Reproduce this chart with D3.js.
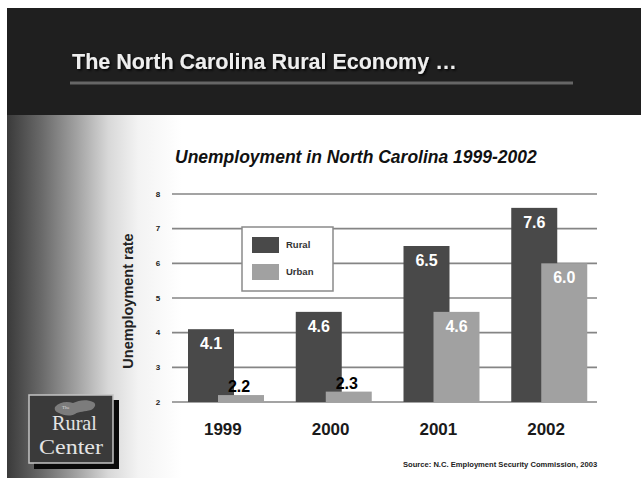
<!DOCTYPE html>
<html>
<head>
<meta charset="utf-8">
<script src="https://cdn.jsdelivr.net/npm/d3@7"></script>
<style>
  html, body { margin: 0; padding: 0; background: #fff; }
  svg { display: block; }
  .sans { font-family: "Liberation Sans", Arial, sans-serif; }
  .serif { font-family: "Liberation Serif", "DejaVu Serif", serif; }
</style>
</head>
<body>
<svg id="chart" width="641" height="483"></svg>
<script>
// ---- data ----
const years = ["1999", "2000", "2001", "2002"];
const seriesNames = ["Rural", "Urban"];
const rural = [4.1, 4.6, 6.5, 7.6];
const urban = [2.2, 2.3, 4.6, 6.0];
const yTicks = [2, 3, 4, 5, 6, 7, 8];
const title = "The North Carolina Rural Economy …";
const subtitle = "Unemployment in North Carolina 1999-2002";
const yAxisTitle = "Unemployment rate";
const source = "Source: N.C. Employment Security Commission, 2003";

const W = 641, H = 483;
const svg = d3.select("#chart");
const defs = svg.append("defs");

// background gradient
const grad = defs.append("linearGradient").attr("id", "leftGrad")
  .attr("x1", 0).attr("x2", 1).attr("y1", 0).attr("y2", 0);
[[0, "#3a3a3a"], [0.2, "#6a6a6a"], [0.4, "#a2a2a2"], [0.58, "#d8d8d8"], [0.75, "#f3f3f3"], [1, "#ffffff"]]
  .forEach(([o, c]) => grad.append("stop").attr("offset", o).attr("stop-color", c));

// title shadow filter
const f = defs.append("filter").attr("id", "shadow").attr("x", "-5%").attr("y", "-30%").attr("width", "110%").attr("height", "160%");
f.append("feDropShadow").attr("dx", 1.5).attr("dy", 1.5).attr("stdDeviation", 0.8)
  .attr("flood-color", "#000").attr("flood-opacity", 0.9);

svg.append("rect").attr("x", 0).attr("y", 0).attr("width", W).attr("height", H).attr("fill", "#fff");
svg.append("rect").attr("x", 7).attr("y", 115).attr("width", 175).attr("height", 363).attr("fill", "url(#leftGrad)");
svg.append("rect").attr("x", 7).attr("y", 8).attr("width", W - 7).attr("height", 107).attr("fill", "#1f1f1f");

// title
svg.append("text").attr("class", "sans").attr("x", 72).attr("y", 69).attr("fill", "#eeeeee")
  .attr("font-size", 21.5).attr("font-weight", "bold").attr("filter", "url(#shadow)").text(title);
svg.append("line").attr("x1", 70).attr("x2", 573).attr("y1", 83).attr("y2", 83)
  .attr("stroke", "#666").attr("stroke-width", 3);

// subtitle
svg.append("text").attr("class", "sans").attr("x", 175).attr("y", 163).attr("fill", "#111")
  .attr("font-size", 17.5).attr("font-weight", "bold").attr("font-style", "italic").text(subtitle);

// scales
const y = d3.scaleLinear().domain([2, 8]).range([402, 194]);
const x = d3.scaleBand().domain(years).range([175, 606]).paddingInner(0).paddingOuter(0);
const barW = 46, ruralOff = 13, urbanOff = 43;
const gridX1 = 172, gridX2 = 597;

// gridlines
svg.append("g").selectAll("line").data(yTicks).join("line")
  .attr("x1", gridX1).attr("x2", gridX2)
  .attr("y1", d => y(d)).attr("y2", d => y(d))
  .attr("stroke", "#858585").attr("stroke-width", 1.6);

// y tick labels
svg.append("g").selectAll("text").data(yTicks).join("text").attr("class", "sans")
  .attr("x", 158).attr("y", d => y(d)).attr("dy", "0.35em")
  .attr("text-anchor", "middle").attr("font-size", 8).attr("font-weight", "bold").attr("fill", "#222")
  .text(d => d);

// y axis title
svg.append("text").attr("class", "sans").attr("transform", `translate(133,301) rotate(-90)`)
  .attr("text-anchor", "middle").attr("font-size", 14.5).attr("font-weight", "bold").attr("fill", "#222")
  .text(yAxisTitle);

// bars
const ruralColor = "#494949", urbanColor = "#a1a1a1";
svg.append("g").selectAll("rect").data(rural).join("rect")
  .attr("x", (d, i) => x(years[i]) + ruralOff).attr("width", barW)
  .attr("y", d => y(d)).attr("height", d => y(2) - y(d)).attr("fill", ruralColor);
svg.append("g").selectAll("rect").data(urban).join("rect")
  .attr("x", (d, i) => x(years[i]) + urbanOff).attr("width", barW)
  .attr("y", d => y(d)).attr("height", d => y(2) - y(d)).attr("fill", urbanColor);

// value labels
const small = d => (y(2) - y(d)) < 20;
svg.append("g").selectAll("text").data(rural).join("text").attr("class", "sans")
  .attr("x", (d, i) => x(years[i]) + ruralOff + barW / 2).attr("y", d => y(d) + 20)
  .attr("text-anchor", "middle").attr("font-size", 16).attr("font-weight", "bold").attr("fill", "#fff")
  .text(d => d.toFixed(1));
svg.append("g").selectAll("text").data(urban).join("text").attr("class", "sans")
  .attr("x", (d, i) => x(years[i]) + urbanOff + barW / 2 + (small(d) ? -2 : 0))
  .attr("y", d => small(d) ? y(d) - 3 : y(d) + 20)
  .attr("text-anchor", "middle").attr("font-size", 16).attr("font-weight", "bold")
  .attr("fill", d => small(d) ? "#000" : "#fff")
  .text(d => d.toFixed(1));

// x axis labels
svg.append("g").selectAll("text").data(years).join("text").attr("class", "sans")
  .attr("x", d => x(d) + x.bandwidth() / 2 - 6).attr("y", 435)
  .attr("text-anchor", "middle").attr("font-size", 17).attr("font-weight", "bold").attr("fill", "#1a1a1a")
  .text(d => d);

// legend
const lg = svg.append("g").attr("transform", "translate(242,227)");
lg.append("rect").attr("width", 91).attr("height", 64).attr("fill", "#fff")
  .attr("stroke", "#8a8a8a").attr("stroke-width", 1.5);
const legColors = [ruralColor, urbanColor];
seriesNames.forEach((s, i) => {
  lg.append("rect").attr("x", 10).attr("y", 10 + i * 27).attr("width", 27).attr("height", 16).attr("fill", legColors[i]);
  lg.append("text").attr("class", "sans").attr("x", 44).attr("y", 18 + i * 27).attr("dy", "0.35em")
    .attr("font-size", 9.5).attr("font-weight", "bold").attr("fill", "#333").text(s);
});

// source
svg.append("text").attr("class", "sans").attr("x", 403).attr("y", 467).attr("font-size", 7.6).attr("font-weight", "bold")
  .attr("fill", "#222").text(source);

// logo
const logo = svg.append("g").attr("transform", "translate(29,395)");
logo.append("rect").attr("x", 5).attr("y", 5).attr("width", 85).attr("height", 69).attr("fill", "#0a0a0a");
logo.append("rect").attr("x", 0).attr("y", 0).attr("width", 84).attr("height", 68)
  .attr("fill", "#3a3a3a").attr("stroke", "#c4c4c4").attr("stroke-width", 1.5);
logo.append("path")
  .attr("d", "M26,12 C30,7 38,6 44,8 C50,5 58,4 64,7 C68,9 66,13 62,15 C56,17 50,16 46,19 C40,22 34,20 30,18 C27,17 25,15 26,12 Z")
  .attr("fill", "#7c7c7c");
logo.append("text").attr("class", "serif").attr("x", 33).attr("y", 13.5).attr("font-size", 5).attr("fill", "#ddd").text("The");
logo.append("text").attr("class", "serif").attr("x", 23).attr("y", 35).attr("font-size", 22).attr("fill", "#e4e4e4")
  .attr("textLength", 45).attr("lengthAdjust", "spacingAndGlyphs").text("Rural");
logo.append("text").attr("class", "serif").attr("x", 10).attr("y", 59).attr("font-size", 21).attr("fill", "#e4e4e4")
  .attr("textLength", 64).attr("lengthAdjust", "spacingAndGlyphs").text("Center");
</script>
</body>
</html>
